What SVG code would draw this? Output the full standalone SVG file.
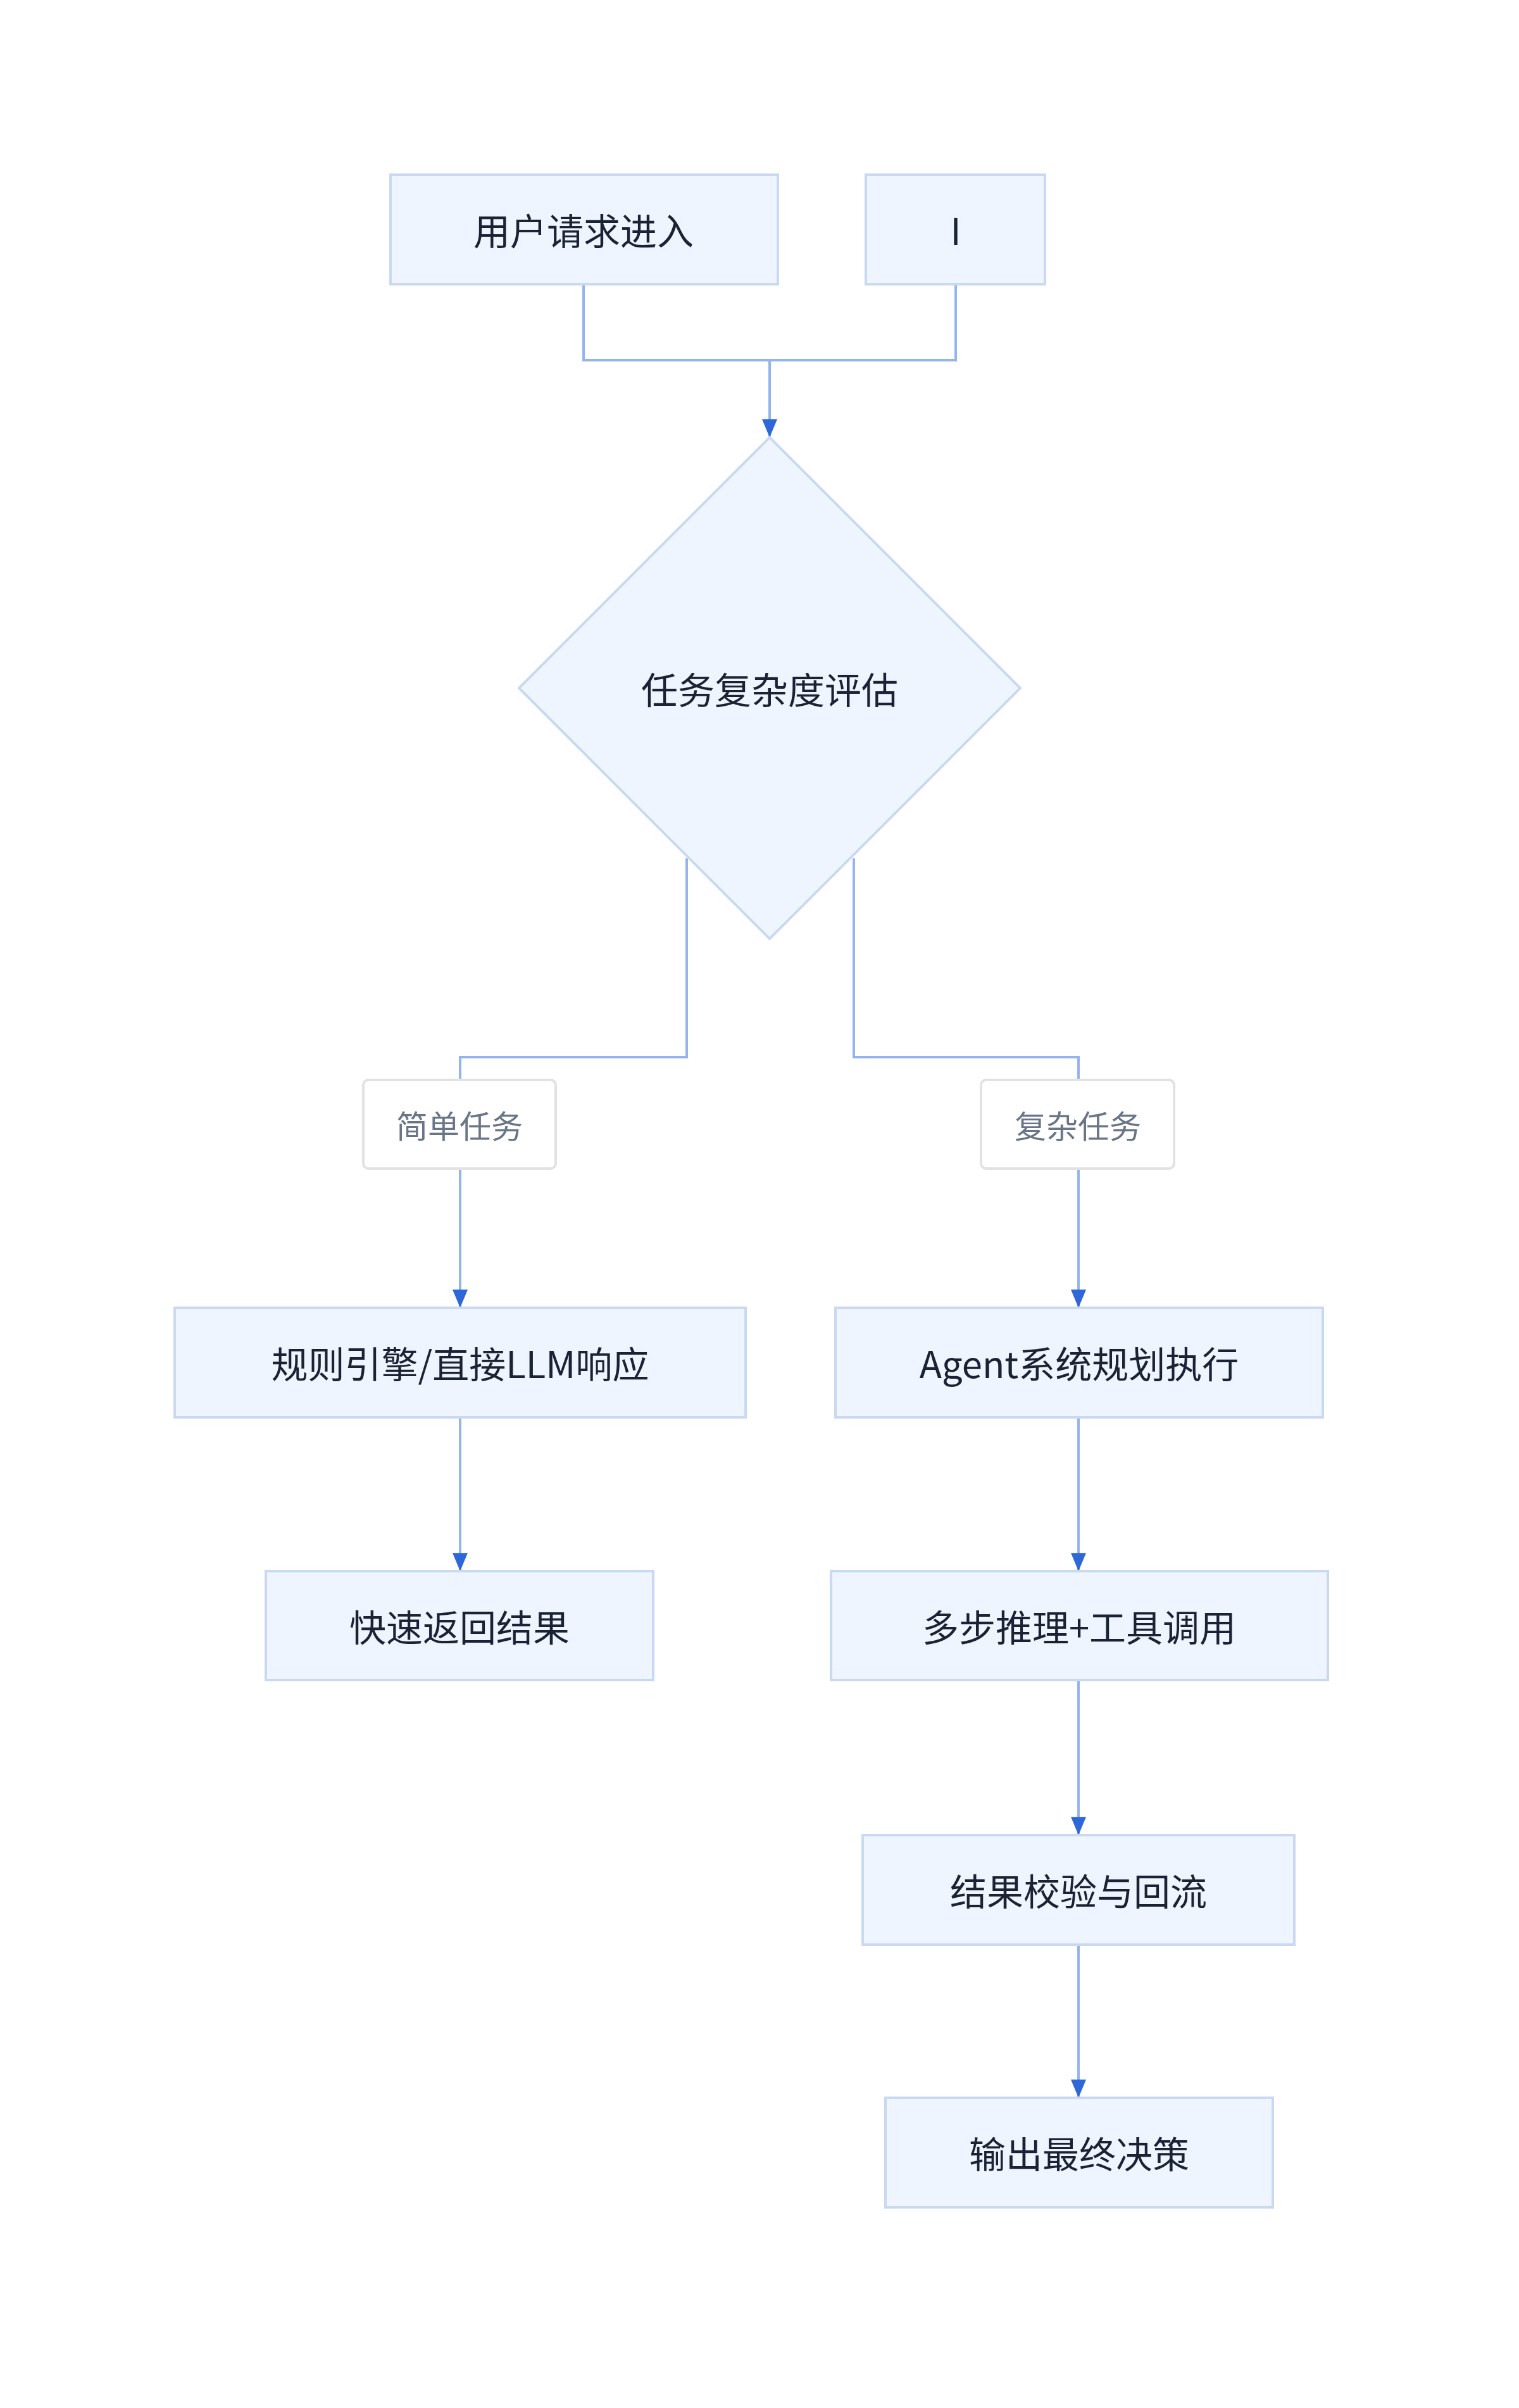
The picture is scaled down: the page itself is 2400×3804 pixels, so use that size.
<svg xmlns="http://www.w3.org/2000/svg" width="2400" height="3804" viewBox="0 0 2400 3804">
<style>
.n{fill:#eff5fe;stroke:#c9d9f2;stroke-width:4}
.t{font-family:"Noto Sans CJK SC","Noto Sans",sans-serif;font-size:58px;fill:#1a2233;text-anchor:middle;dominant-baseline:central}
.lb{fill:#fff;stroke:#e2e2e2;stroke-width:4}
.lt{font-family:"Noto Sans CJK SC","Noto Sans",sans-serif;font-size:50px;fill:#6a7587;text-anchor:middle;dominant-baseline:central}
.c{fill:none;stroke:#93b4ee;stroke-width:4}
</style>
<defs><marker id="a" viewBox="0 0 10 10" refX="10" refY="5" markerWidth="7" markerHeight="7" markerUnits="userSpaceOnUse" orient="auto"><path d="M0,0L10,5L0,10z" fill="#2e67d8"/></marker>
<marker id="ah" viewBox="0 0 12 10" refX="12" refY="5" markerWidth="30" markerHeight="24" markerUnits="userSpaceOnUse" orient="auto"><path d="M0,0L12,5L0,10z" fill="#2e67d8"/></marker></defs>
<rect width="2400" height="3804" fill="#fff"/>
<g id="connectors">
<path class="c" d="M922,449V569H1510V449"/>
<path class="c" d="M1216,569V691" marker-end="url(#ah)"/>
<path class="c" d="M1085,1356V1670H727V1706"/>
<path class="c" d="M1349,1356V1670H1704V1706"/>
<path class="c" d="M727,1846V2066" marker-end="url(#ah)"/>
<path class="c" d="M1704,1846V2066" marker-end="url(#ah)"/>
<path class="c" d="M727,2239V2482" marker-end="url(#ah)"/>
<path class="c" d="M1704,2239V2482" marker-end="url(#ah)"/>
<path class="c" d="M1704,2654V2899" marker-end="url(#ah)"/>
<path class="c" d="M1704,3072V3314" marker-end="url(#ah)"/>
</g>
<g id="n1"><rect class="n" x="617" y="276" width="612" height="173"/><text class="t" x="922" y="362">用户请求进入</text></g>
<g id="n2"><rect class="n" x="1368" y="276" width="283" height="173"/><text class="t" x="1510" y="362">I</text></g>
<g id="n3"><path class="n" d="M1216,691L1612,1087L1216,1483L820,1087z"/><text class="t" x="1216" y="1087">任务复杂度评估</text></g>
<g id="l1"><rect class="lb" x="574" y="1706" width="304" height="140" rx="8"/><text class="lt" x="726" y="1776">简单任务</text></g>
<g id="l2"><rect class="lb" x="1550" y="1706" width="305" height="140" rx="8"/><text class="lt" x="1703" y="1776">复杂任务</text></g>
<g id="n4"><rect class="n" x="276" y="2066" width="902" height="173"/><text class="t" x="727" y="2152">规则引擎/直接LLM响应</text></g>
<g id="n5"><rect class="n" x="1320" y="2066" width="770" height="173"/><text class="t" x="1705" y="2152">Agent系统规划执行</text></g>
<g id="n6"><rect class="n" x="420" y="2482" width="612" height="172"/><text class="t" x="726" y="2568">快速返回结果</text></g>
<g id="n7"><rect class="n" x="1313" y="2482" width="785" height="172"/><text class="t" x="1705" y="2568">多步推理+工具调用</text></g>
<g id="n8"><rect class="n" x="1363" y="2899" width="682" height="173"/><text class="t" x="1704" y="2985">结果校验与回流</text></g>
<g id="n9"><rect class="n" x="1399" y="3314" width="612" height="173"/><text class="t" x="1705" y="3400">输出最终决策</text></g>
</svg>
